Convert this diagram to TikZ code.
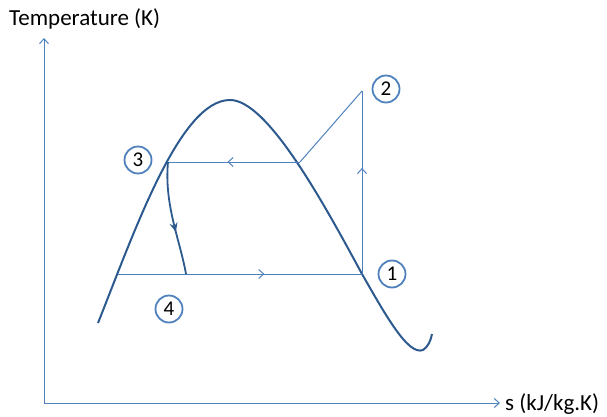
\documentclass[tikz,border=0pt]{standalone}
\usepackage{fontspec}
\setmainfont{Carlito}
\usetikzlibrary{arrows.meta,decorations.markings}
\definecolor{lblue}{HTML}{4F81BD}
\definecolor{dblue}{HTML}{2C5A8F}
\begin{document}
\begin{tikzpicture}[x=1pt,y=-1pt,
  thin line/.style={draw=lblue,line width=1pt},
  dome/.style={draw=dblue,line width=2pt},
  midarrow/.style={postaction={decorate},decoration={markings,mark=at position #1 with {\arrow{Straight Barb[length=5pt,width=9pt]}}}},
  statenum/.style={circle,draw=lblue,line width=1.8pt,minimum size=27pt,inner sep=0pt,font=\fontsize{21}{21}\selectfont},
  lbl/.style={font=\fontsize{23}{23}\selectfont,inner sep=0pt}]
\useasboundingbox (0,0) rectangle (607,417);
% axes
\coordinate (O) at (44,403);
\coordinate (Ytop) at (44,38);
\coordinate (Xend) at (500,403);
\draw[thin line,-{Straight Barb[length=5pt,width=9pt]}] (O) -- (Ytop);
\draw[thin line,-{Straight Barb[length=5pt,width=9pt]}] (O) -- (Xend);
\node[lbl,anchor=west] (ylab) at (9,19) {Temperature (K)};
\node[lbl,anchor=west] (xlab) at (505,404) {s (kJ/kg.K)};
% states
\coordinate (p1) at (362,274);
\coordinate (p2) at (362,91);
\coordinate (p3) at (168,162);
\coordinate (p4) at (186,274);
\coordinate (q) at (300,162);
\coordinate (l) at (118,274);
% dome
\draw[dome] (98,323) .. controls (135,230) and (180,100) .. (230,100)
  .. controls (267,100) and (322,200) .. (362,274)
  .. controls (385,314) and (408,356) .. (423,350)
  .. controls (428,347) and (431,340) .. (432,334);
% cycle lines
\draw[thin line,midarrow=0.55] (q) -- (p3);
\draw[thin line] (q) -- (p2);
\draw[thin line,midarrow=0.58] (p1) -- (p2);
\draw[thin line,midarrow=0.6] (l) -- (p1);
\draw[draw=dblue,line width=1.8pt,postaction={decorate},decoration={markings,mark=at position 0.62 with {\arrow{Stealth[length=9pt,width=8pt]}}}] (p3) .. controls (164,205) and (180,240) .. (p4);
% labels
\node[statenum] (n1) at (392,274) {1};
\node[statenum] (n2) at (386,89) {2};
\node[statenum] (n3) at (138,160) {3};
\node[statenum] (n4) at (169,309) {4};
\end{tikzpicture}
\end{document}
